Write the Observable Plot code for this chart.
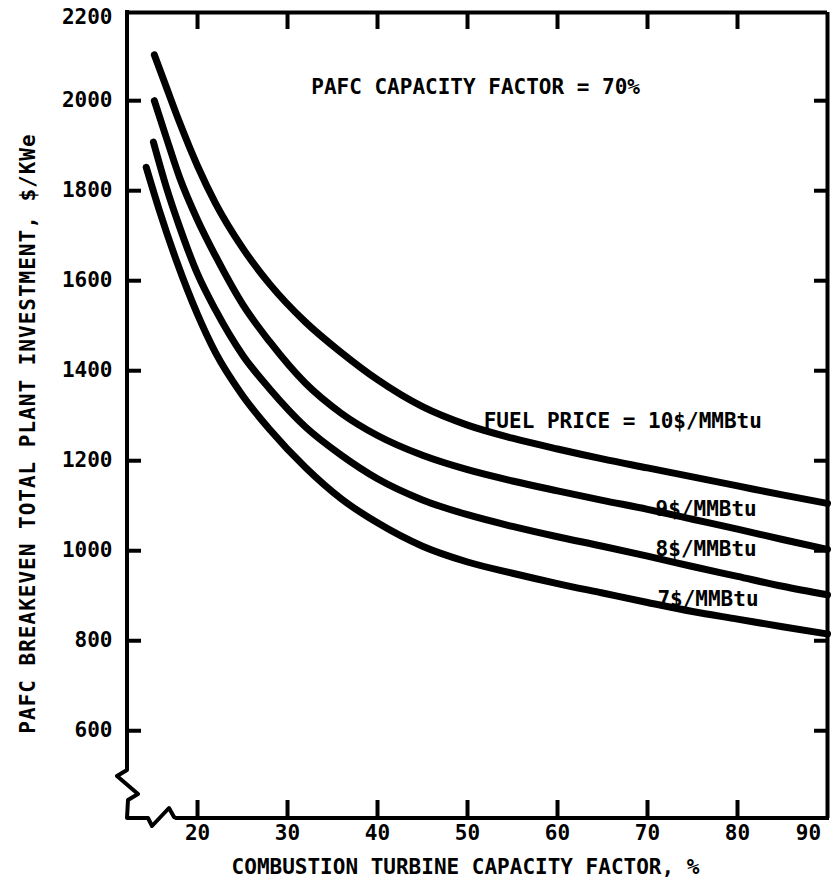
<!DOCTYPE html>
<html><head><meta charset="utf-8">
<script src="https://cdn.jsdelivr.net/npm/d3@7"></script>
<script src="https://cdn.jsdelivr.net/npm/@observablehq/plot@0.6"></script>
<style>
body{margin:0;background:#fff;}
#chart svg{display:block;}
</style></head><body><div id="chart"></div>
<script>
// ---- data ----
const seriesNames = ["10$/MMBtu", "9$/MMBtu", "8$/MMBtu", "7$/MMBtu"];
const x10 = [15.2,16.5,18,20,22,25,28,32,36,40,45,50,55,60,65,70,75,80,85,90];
const y10 = [2102,2032,1952,1855,1772,1673,1593,1508,1440,1380,1320,1279,1250,1226,1204,1184,1164,1144,1124,1105];
const x9  = [15.2,16.5,18,20,22,25,28,32,36,40,45,50,55,60,65,70,75,80,85,90];
const y9  = [2000,1920,1830,1735,1655,1548,1465,1372,1305,1256,1212,1180,1155,1133,1112,1092,1070,1048,1025,1003];
const x8  = [15.1,16.5,18,20,22,25,28,32,36,40,45,50,55,60,65,70,75,80,85,90];
const y8  = [1908,1810,1720,1615,1535,1435,1360,1275,1212,1160,1113,1080,1054,1031,1010,988,965,943,921,902];
const x7  = [14.3,15.7,17.7,20,22,25,28,32,36,40,45,50,55,60,65,70,75,80,85,90];
const y7  = [1852,1760,1642,1525,1440,1345,1270,1185,1115,1062,1010,975,950,927,906,885,865,848,831,815];

const xTicks = [20, 30, 40, 50, 60, 70, 80, 90];
const yTicks = [600, 800, 1000, 1200, 1400, 1600, 1800, 2000, 2200];
const xDomain = [12.22, 90];
const yDomain = [405, 2196];

const annText = ["PAFC CAPACITY FACTOR = 70%", "FUEL PRICE = 10$/MMBtu", "9$/MMBtu", "8$/MMBtu", "7$/MMBtu"];
const annX = [50.9, 51.8, 70.9, 70.9, 71.1];
const annY = [2029, 1287, 1093, 1004, 893];
const annAnchor = ["middle", "start", "start", "start", "start"];

const xLabel = "COMBUSTION TURBINE CAPACITY FACTOR, %";
const yLabel = "PAFC BREAKEVEN TOTAL PLANT INVESTMENT, $/KWe";

// ---- build tables ----
const xs = [x10, x9, x8, x7], ys = [y10, y9, y8, y7];
const rows = [];
seriesNames.forEach((s, i) => xs[i].forEach((x, j) => rows.push({series: s, x, y: ys[i][j]})));
const ann = annText.map((t, i) => ({t, x: annX[i], y: annY[i], a: annAnchor[i]}));

const inner = xTicks.filter(v => v < 90);
const yInner = yTicks.filter(v => v < 2200);
const fmt = d => String(d);

const plot = Plot.plot({
  width: 835, height: 888,
  marginLeft: 127, marginRight: 8, marginTop: 12, marginBottom: 70,
  style: {fontFamily: "DejaVu Sans Mono", fontSize: "21px", fontWeight: "bold", color: "#000", background: "#fff"},
  x: {domain: xDomain},
  y: {domain: yDomain},
  marks: [
    // top and right frame lines
    Plot.ruleY([yDomain[1]], {strokeWidth: 4}),
    Plot.ruleX([xDomain[1]], {strokeWidth: 4}),
    // inward ticks
    Plot.axisY(yInner, {anchor: "left", tickSize: 14, dx: 14, text: null, label: null, strokeWidth: 4}),
    Plot.axisY(yInner, {anchor: "right", tickSize: 14, dx: -14, text: null, label: null, strokeWidth: 4}),
    Plot.axisX(inner, {anchor: "top", tickSize: 16, dy: 16, text: null, label: null, strokeWidth: 4}),
    Plot.axisX(inner, {anchor: "bottom", tickSize: 18, dy: -18, text: null, label: null, strokeWidth: 4}),
    // tick labels
    Plot.axisY(yInner, {anchor: "left", tickSize: 0, tickPadding: 15, label: null, tickFormat: fmt}),
    Plot.axisY([2200], {anchor: "left", tickSize: 0, tickPadding: 15, label: null, dy: 7, tickFormat: fmt}),
    Plot.axisX(inner, {anchor: "bottom", tickSize: 0, tickPadding: 7, label: null, tickFormat: fmt}),
    Plot.axisX([90], {anchor: "bottom", tickSize: 0, tickPadding: 7, label: null, dx: -19, tickFormat: fmt}),
    // curves
    Plot.line(rows, {x: "x", y: "y", z: "series", curve: "monotone-x", strokeWidth: 7, strokeLinecap: "round", strokeLinejoin: "round"}),
    // annotations
    Plot.text(ann.filter(d => d.a === "middle"), {x: "x", y: "y", text: "t", textAnchor: "middle"}),
    Plot.text(ann.filter(d => d.a === "start"), {x: "x", y: "y", text: "t", textAnchor: "start"}),
    // axis titles
    Plot.text([xLabel], {frameAnchor: "bottom", dy: 49, dx: -12, lineAnchor: "middle", textAnchor: "middle"}),
    Plot.text([yLabel], {frameAnchor: "left", rotate: -90, dx: -99, dy: 18, lineAnchor: "middle", textAnchor: "middle"})
  ]
});

// left and bottom axis lines with break symbols, placed from the plot's own scales
const sx = plot.scale("x"), sy = plot.scale("y");
const x0 = sx.apply(xDomain[0]), x1 = sx.apply(xDomain[1]);
const yb = sy.apply(yDomain[0]), yt = sy.apply(yDomain[1]);
const pts = [
  [x0, yt], [x0, yb - 48], [x0 - 10, yb - 42], [x0 + 11, yb - 24], [x0 + 1, yb - 18], [x0, yb],
  [x0 + 21, yb], [x0 + 25, yb + 8], [x0 + 42, yb - 10], [x0 + 47, yb - 1], [x0 + 49, yb], [x1, yb]
];
d3.select(plot).append("path")
  .attr("d", d3.line()(pts))
  .attr("fill", "none").attr("stroke", "#000").attr("stroke-width", 4)
  .attr("stroke-linejoin", "round").attr("stroke-linecap", "square");
d3.select(plot).selectAll("text").filter(function() { return this.textContent === yLabel; })
  .style("letter-spacing", "1px");

document.getElementById("chart").appendChild(plot);
</script></body></html>
